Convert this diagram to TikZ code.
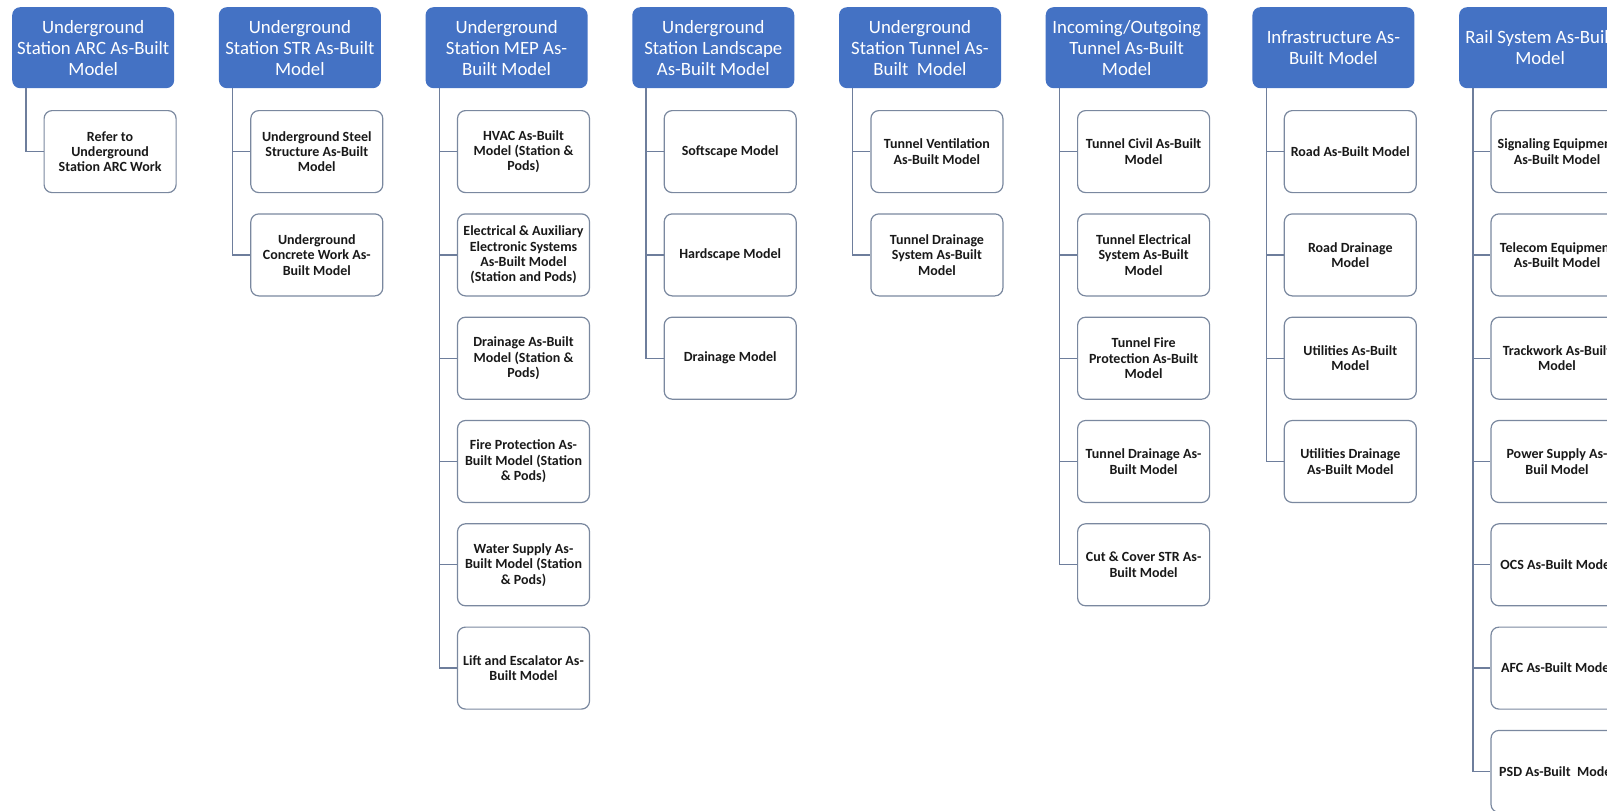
\documentclass[tikz,border=0pt]{standalone}
\usepackage{fontspec}
\setmainfont{Carlito}
\definecolor{headblue}{HTML}{4472C4}
\definecolor{linkgray}{HTML}{6E7E9C}
\definecolor{boxgray}{HTML}{7A889F}
\tikzset{
  head/.style={fill=headblue, rounded corners=8pt, text=white, anchor=north west,
    minimum width=162pt, minimum height=81pt, align=center, inner sep=2pt,
    font=\fontsize{18.8}{21}\selectfont},
  item/.style={draw=boxgray, line width=1.2pt, fill=white, rounded corners=8pt,
    anchor=north west, minimum width=132pt, minimum height=82pt, align=center,
    inner sep=2pt, text=black!90, font=\bfseries\fontsize{14}{15.4}\selectfont},
  link/.style={draw=linkgray, line width=1.3pt}
}
\begin{document}
\begin{tikzpicture}[x=1pt, y=-1pt]
\useasboundingbox (0,0) rectangle (1607,811);
\clip (0,0) rectangle (1607,811);
% headers
\node [head] (arc) at (12,7) {Underground\\Station ARC As-Built\\Model};
\node [head] (str) at (218.7,7) {Underground\\Station STR As-Built\\Model};
\node [head] (mep) at (425.4,7) {Underground\\Station MEP As-\\Built Model};
\node [head] (land) at (632.1,7) {Underground\\Station Landscape\\As-Built Model};
\node [head] (tun) at (838.8,7) {Underground\\Station Tunnel As-\\Built~ Model};
\node [head] (io) at (1045.5,7) {Incoming/Outgoing\\Tunnel As-Built\\Model};
\node [head] (infra) at (1252.2,7) {Infrastructure As-\\Built Model};
\node [head] (rail) at (1458.9,7) {Rail System As-Built\\Model};
% station ARC / STR
\node [item] (arc1) at (43.5,110) {Refer to\\Underground\\Station ARC Work};
\node [item] (str1) at (250.2,110) {Underground Steel\\Structure As-Built\\Model};
\node [item] (str2) at (250.2,213.3) {Underground\\Concrete Work As-\\Built Model};
% MEP
\node [item] (mep1) at (456.9,110) {HVAC As-Built\\Model (Station \&\\Pods)};
\node [item] (mep2) at (456.9,213.3) {Electrical \& Auxiliary\\Electronic Systems\\As-Built Model\\(Station and Pods)};
\node [item] (mep3) at (456.9,316.6) {Drainage As-Built\\Model (Station \&\\Pods)};
\node [item] (mep4) at (456.9,419.9) {Fire Protection As-\\Built Model (Station\\\& Pods)};
\node [item] (mep5) at (456.9,523.2) {Water Supply As-\\Built Model (Station\\\& Pods)};
\node [item] (mep6) at (456.9,626.5) {Lift and Escalator As-\\Built Model};
% landscape
\node [item] (land1) at (663.6,110) {Softscape Model};
\node [item] (land2) at (663.6,213.3) {Hardscape Model};
\node [item] (land3) at (663.6,316.6) {Drainage Model};
% station tunnel
\node [item] (tun1) at (870.3,110) {Tunnel Ventilation\\As-Built Model};
\node [item] (tun2) at (870.3,213.3) {Tunnel Drainage\\System As-Built\\Model};
% incoming/outgoing tunnel
\node [item] (io1) at (1077,110) {Tunnel Civil As-Built\\Model};
\node [item] (io2) at (1077,213.3) {Tunnel Electrical\\System As-Built\\Model};
\node [item] (io3) at (1077,316.6) {Tunnel Fire\\Protection As-Built\\Model};
\node [item] (io4) at (1077,419.9) {Tunnel Drainage As-\\Built Model};
\node [item] (io5) at (1077,523.2) {Cut \& Cover STR As-\\Built Model};
% infrastructure
\node [item] (infra1) at (1283.7,110) {Road As-Built Model};
\node [item] (infra2) at (1283.7,213.3) {Road Drainage\\Model};
\node [item] (infra3) at (1283.7,316.6) {Utilities As-Built\\Model};
\node [item] (infra4) at (1283.7,419.9) {Utilities Drainage\\As-Built Model};
% rail system
\node [item] (rail1) at (1490.4,110) {Signaling Equipment\\As-Built Model};
\node [item] (rail2) at (1490.4,213.3) {Telecom Equipment\\As-Built Model};
\node [item] (rail3) at (1490.4,316.6) {Trackwork As-Built\\Model};
\node [item] (rail4) at (1490.4,419.9) {Power Supply As-\\Buil Model};
\node [item] (rail5) at (1490.4,523.2) {OCS As-Built Model};
\node [item] (rail6) at (1490.4,626.5) {AFC As-Built Model};
\node [item] (rail7) at (1490.4,729.8) {PSD As-Built~ Model};
% connectors
\foreach \h/\c in {arc/arc1, str/str1, str/str2,
    mep/mep1, mep/mep2, mep/mep3, mep/mep4, mep/mep5, mep/mep6,
    land/land1, land/land2, land/land3, tun/tun1, tun/tun2,
    io/io1, io/io2, io/io3, io/io4, io/io5,
    infra/infra1, infra/infra2, infra/infra3, infra/infra4,
    rail/rail1, rail/rail2, rail/rail3, rail/rail4, rail/rail5, rail/rail6, rail/rail7}
  \draw [link] ([xshift=14pt]\h.south west) |- (\c.west);
\end{tikzpicture}
\end{document}
